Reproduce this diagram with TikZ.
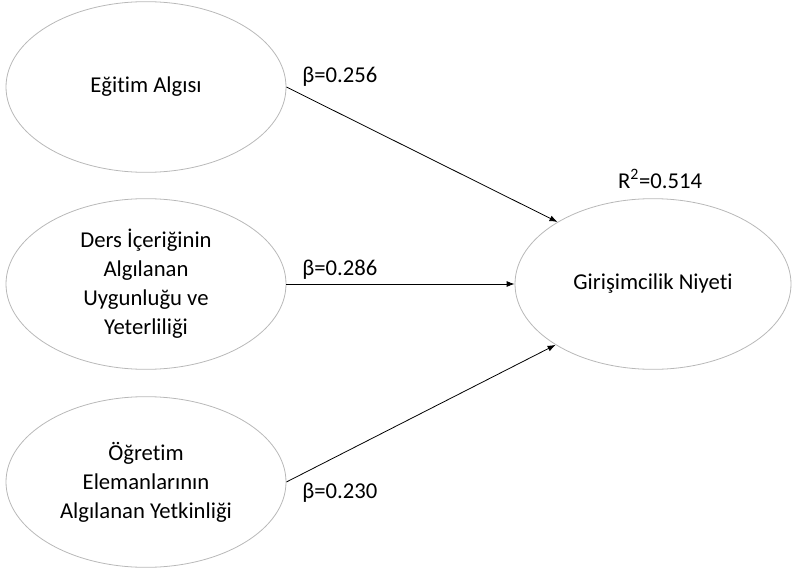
\documentclass[tikz,border=0pt]{standalone}
\usepackage{fontspec}
\setmainfont[Ligatures={NoCommon,NoContextual,NoRequired}]{Carlito}
\usetikzlibrary{shapes.geometric,arrows.meta}
\begin{document}
\begin{tikzpicture}[x=0.75pt,y=-0.75pt,
  every node/.style={font=\fontsize{17}{21.75}\selectfont},
  oval/.style={ellipse,draw=black!28,line width=0.6pt,inner sep=0pt,
    minimum width=210pt,minimum height=128pt,align=center},
  path/.style={draw=black,line width=0.6pt,-{Latex[length=6pt,width=4.5pt]}},
  coef/.style={anchor=west,inner sep=0pt}]
\useasboundingbox (0,0) rectangle (792,574);
\node[oval] (e1) at (146,87) {Eğit{}im Algısı};
\node[oval] (e2) at (146,284) {Ders İçeriğinin\\Algılanan\\Uygunluğu ve\\Yeterliliği};
\node[oval] (e3) at (146,482) {Öğret{}im\\Elemanlarının\\Algılanan Yetkinliği};
\node[oval,minimum width=207pt] (ni) at (653,284) {Girişimcilik Niyet{}i};
\draw[path] (e1.east) -- (ni.147.7);
\draw[path] (e2.east) -- (ni.west);
\draw[path] (e3.east) -- (ni.212.3);
\node[coef] (b1) at (302,77) {β=0.256};
\node[coef] (b2) at (302,270) {β=0.286};
\node[coef] (b3) at (302,493) {β=0.230};
\node[inner sep=0pt] (r2) at (660,179) {R\textsuperscript{2}=0.514};
\end{tikzpicture}
\end{document}
